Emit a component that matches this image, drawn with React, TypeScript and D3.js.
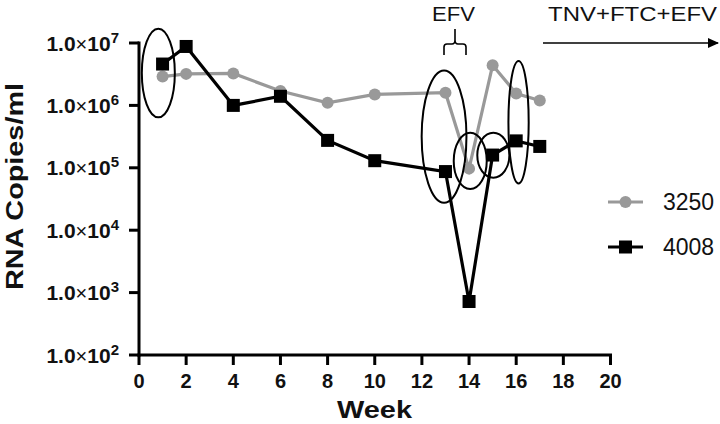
import React from "react";
import * as d3 from "d3";

const weeks = [1, 2, 4, 6, 8, 10, 13, 14, 15, 16, 17];
const series3250 = [2.9e6, 3.2e6, 3.25e6, 1.7e6, 1.1e6, 1.5e6, 1.6e6, 9.7e4, 4.4e6, 1.55e6, 1.2e6];
const series4008 = [4.6e6, 8.8e6, 1.0e6, 1.4e6, 2.75e5, 1.3e5, 8.7e4, 7.2e2, 1.6e5, 2.7e5, 2.2e5];
const xTicks = [0, 2, 4, 6, 8, 10, 12, 14, 16, 18, 20];
const yExponents = [2, 3, 4, 5, 6, 7];
const seriesNames = ["3250", "4008"];
// annotation ellipses: center week, center log10 value, half-width (weeks), half-height (decades)
const ellipses = [
  { week: 0.82, logv: 6.52, rw: 0.7, rd: 0.71 },
  { week: 12.94, logv: 5.5, rw: 0.95, rd: 1.06 },
  { week: 14.05, logv: 5.11, rw: 0.7, rd: 0.45 },
  { week: 15.03, logv: 5.2, rw: 0.68, rd: 0.36 },
  { week: 16.1, logv: 5.73, rw: 0.43, rd: 0.98 },
];

export default function App() {
  const W = 720, H = 424;
  const x = d3.scaleLinear().domain([0, 20]).range([139, 610.5]);
  const y = d3.scaleLog().domain([1e2, 1e7]).range([355, 43]);
  const line = d3.line<[number, number]>().x(d => x(d[0])).y(d => y(d[1]));
  const d3250 = weeks.map((w, i) => [w, series3250[i]] as [number, number]);
  const d4008 = weeks.map((w, i) => [w, series4008[i]] as [number, number]);
  const font = "'Liberation Sans', Arial, sans-serif";
  const gray = "#999999";
  const decadePx = y(1e6) - y(1e7);
  const unitPx = x(1) - x(0);
  const sq = 13;
  return (
    <svg width={W} height={H} style={{ position: "absolute", left: 0, top: 0, background: "#fff" }} fontFamily={font}>
      <defs>
        <marker id="arr" markerWidth="11" markerHeight="10" refX="10" refY="5" orient="auto" markerUnits="userSpaceOnUse">
          <path d="M0,0 L11,5 L0,10 Z" fill="#000" />
        </marker>
      </defs>
      {/* axes */}
      <line x1={x(0)} x2={x(0)} y1={y(1e7) - 1.5} y2={y(1e2) + 1.5} stroke="#000" strokeWidth={3} />
      <line x1={x(0) - 1.5} x2={x(20) + 1.5} y1={y(1e2)} y2={y(1e2)} stroke="#000" strokeWidth={3} />
      {yExponents.map(e => (
        <g key={e}>
          <line x1={x(0) - 10} x2={x(0)} y1={y(Math.pow(10, e))} y2={y(Math.pow(10, e))} stroke="#000" strokeWidth={3} />
          <text x={119} y={y(Math.pow(10, e)) + 7.5} textAnchor="end" fontSize={21} fontWeight="bold" fill="#111">
            1.0<tspan fontWeight="normal" fontSize={20}>×</tspan>10<tspan dy={-8} fontSize={15}>{e}</tspan>
          </text>
        </g>
      ))}
      {xTicks.map(t => (
        <g key={t}>
          <line x1={x(t)} x2={x(t)} y1={y(1e2)} y2={y(1e2) + 10} stroke="#000" strokeWidth={3} />
          <text x={x(t)} y={388} textAnchor="middle" fontSize={20} fontWeight="bold" fill="#111">{t}</text>
        </g>
      ))}
      <text x={374.5} y={418} textAnchor="middle" fontSize={24} fontWeight="bold" fill="#111" textLength={75} lengthAdjust="spacingAndGlyphs">Week</text>
      <text transform={`translate(22.5,186.5) rotate(-90)`} textAnchor="middle" fontSize={24} fontWeight="bold" fill="#111" textLength={207} lengthAdjust="spacingAndGlyphs">RNA Copies/ml</text>

      {/* series */}
      <path d={line(d3250) || ""} fill="none" stroke={gray} strokeWidth={3.2} />
      {d3250.map((d, i) => <circle key={i} cx={x(d[0])} cy={y(d[1])} r={6} fill={gray} />)}
      <path d={line(d4008) || ""} fill="none" stroke="#000" strokeWidth={3.2} />
      {d4008.map((d, i) => <rect key={i} x={x(d[0]) - sq / 2} y={y(d[1]) - sq / 2} width={sq} height={sq} fill="#000" />)}

      {/* ellipses */}
      {ellipses.map((e, i) => (
        <ellipse key={i} cx={x(e.week)} cy={y(Math.pow(10, e.logv))} rx={e.rw * unitPx} ry={e.rd * decadePx} fill="none" stroke="#000" strokeWidth={2} />
      ))}

      {/* annotations */}
      <text x={453.5} y={21} textAnchor="middle" fontSize={20} fill="#111" textLength={43} lengthAdjust="spacingAndGlyphs">EFV</text>
      <path d="M444,55 L444,47 Q444,44 447,44 L452,44 Q455,44 455,40 L455,29 M455,40 Q455,44 458,44 L463,44 Q466,44 466,47 L466,55" fill="none" stroke="#000" strokeWidth={1.6} />
      <text x={632.5} y={21} textAnchor="middle" fontSize={20} fill="#111" textLength={169} lengthAdjust="spacingAndGlyphs">TNV+FTC+EFV</text>
      <line x1={543} x2={718} y1={43} y2={43} stroke="#000" strokeWidth={1.6} markerEnd="url(#arr)" />

      {/* legend */}
      <line x1={608} x2={643} y1={202} y2={202} stroke={gray} strokeWidth={3.2} />
      <circle cx={625.5} cy={202} r={6} fill={gray} />
      <text x={663} y={210} fontSize={23} fill="#111">{seriesNames[0]}</text>
      <line x1={608} x2={643} y1={247} y2={247} stroke="#000" strokeWidth={3.2} />
      <rect x={625.5 - sq / 2} y={247 - sq / 2} width={sq} height={sq} fill="#000" />
      <text x={663} y={255} fontSize={23} fill="#111">{seriesNames[1]}</text>
    </svg>
  );
}
